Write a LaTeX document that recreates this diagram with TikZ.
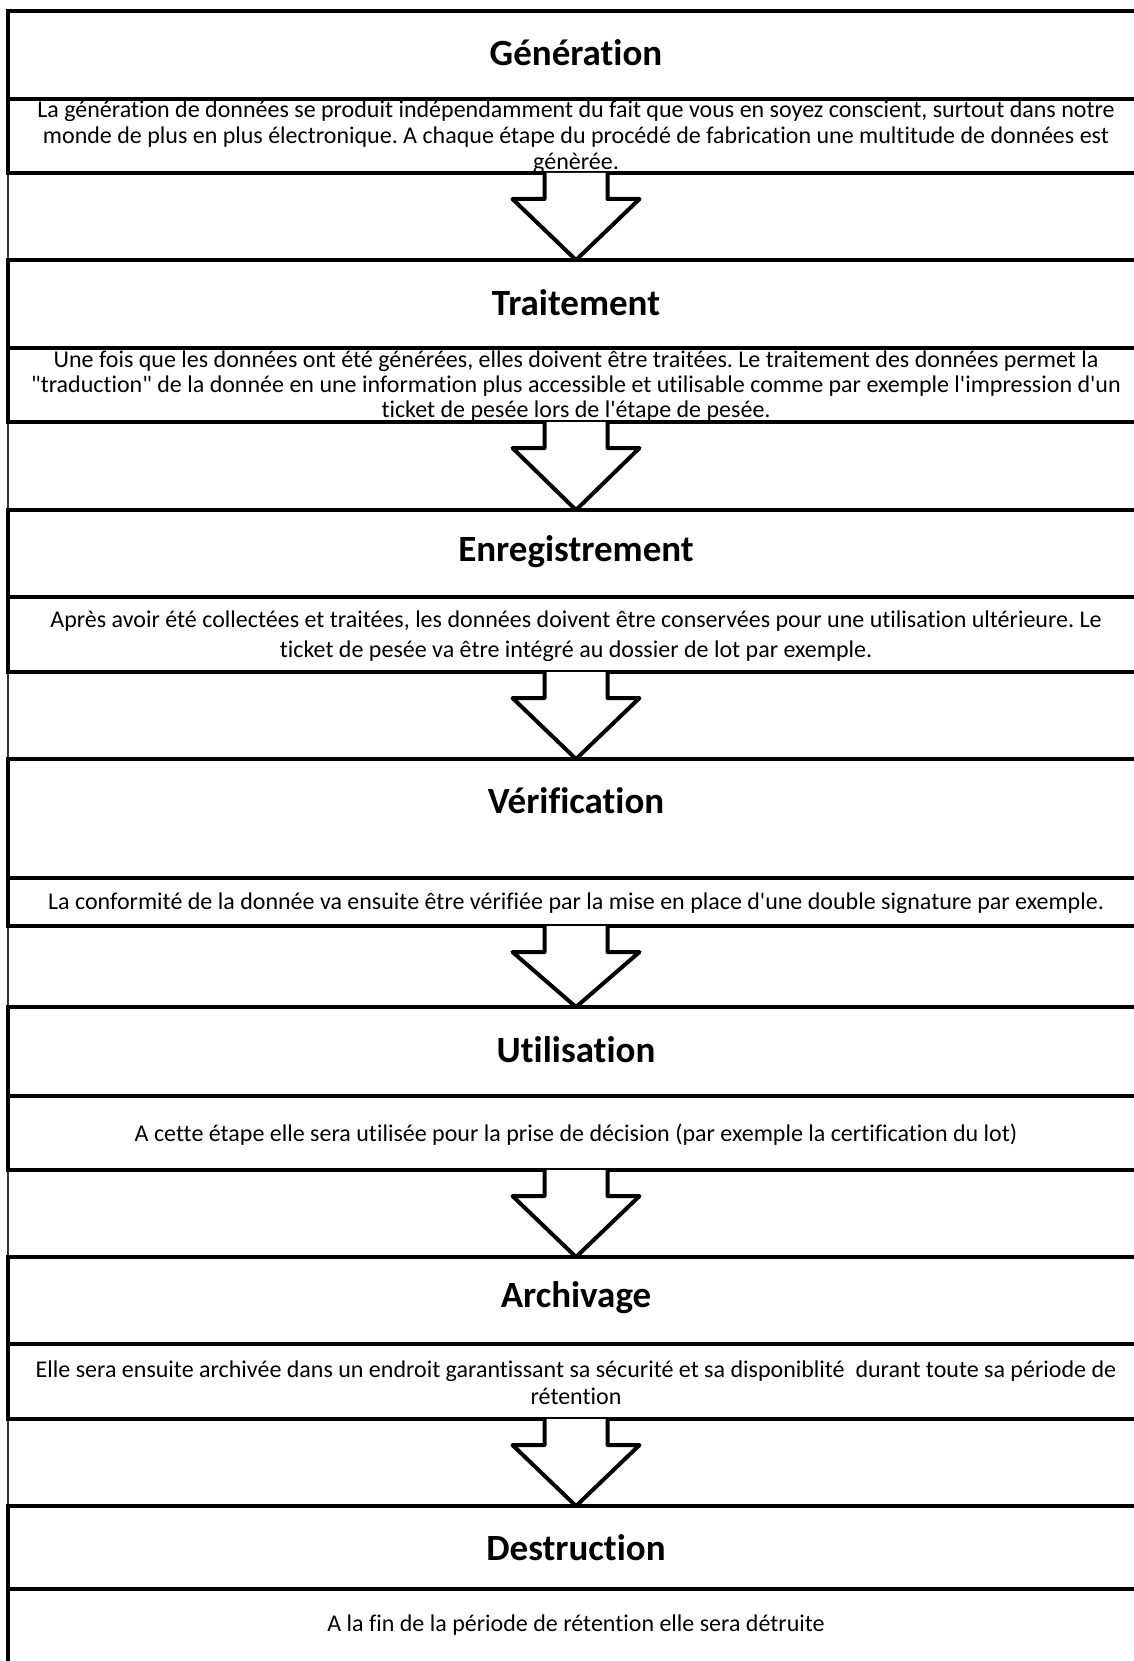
\documentclass[tikz,border=0pt]{standalone}
\usepackage{fontspec}
\newfontfamily\stagefont{Carlito}[Ligatures=NoCommon]
\usetikzlibrary{calc}
\frenchspacing

\tikzset{
  x=1pt, y=-1pt,
  stageframe/.style={draw=black, line width=4pt, fill=white,
    minimum width=1136pt, inner sep=0pt, outer sep=0pt},
  stagetitle/.style={font=\stagefont\bfseries\fontsize{37}{44}\selectfont,
    inner sep=0pt, anchor=center},
  stagetext/.style={font=\stagefont\fontsize{24}{26}\selectfont,
    align=center, inner sep=0pt, anchor=center},
  spine/.style={draw=black!80, line width=1.3pt},
  downarrow/.style={draw=black, line width=4pt, fill=white, line join=round},
}

\newcommand{\stagearrow}[2]{%
  \draw[downarrow] ($(#1.south)+(-31.5,0)$) -- ++(0,26) -- ++(-32,0)
    -- (#2.north) -- ($(#1.south)+(63.5,26)$) -- ++(-32,0)
    -- ($(#1.south)+(31.5,0)$);%
}

\begin{document}
\begin{tikzpicture}
\useasboundingbox[fill=white] (0,0) rectangle (1134,1661);

% thin vertical line running along the left side
\coordinate (spinetop) at (8,11);
\coordinate (spinebot) at (8,1661);
\draw[spine] (spinetop) -- (spinebot);

% ---- stage 1 ----
\node[stageframe, minimum height=88pt] (h1) at (576,55) {};
\node[stageframe, minimum height=74pt] (b1) at (576,136) {};
\node[stagetitle] (t1) at (576,53) {Génération};
\node[stagetext, font=\stagefont\fontsize{24}{26}\selectfont] (x1) at (576,137.5) {La génération de données se produit indépendamment du fait que vous en soyez conscient, surtout dans notre\\monde de plus en plus électronique. A chaque étape du procédé de fabrication une multitude de données est\\génèrée.};

% ---- stage 2 ----
\node[stageframe, minimum height=88pt] (h2) at (576,304) {};
\node[stageframe, minimum height=74pt] (b2) at (576,385) {};
\node[stagetitle] (t2) at (576,303) {Traitement};
\node[stagetext, font=\stagefont\fontsize{24}{25}\selectfont] (x2) at (576,386) {Une fois que les données ont été générées, elles doivent être traitées. Le traitement des données permet la\\"traduction" de la donnée en une information plus accessible et utilisable comme par exemple l'impression d'un\\ticket de pesée lors de l'étape de pesée.};

% ---- stage 3 ----
\node[stageframe, minimum height=87pt] (h3) at (576,553.5) {};
\node[stageframe, minimum height=75pt] (b3) at (576,634.5) {};
\node[stagetitle] (t3) at (576,552) {Enregistrement};
\node[stagetext, font=\stagefont\fontsize{24}{29.5}\selectfont] (x3) at (576,636) {Après avoir été collectées et traitées, les données doivent être conservées pour une utilisation ultérieure. Le\\ticket de pesée va être intégré au dossier de lot par exemple.};

% ---- stage 4 ----
\node[stageframe, minimum height=119pt] (h4) at (576,818.5) {};
\node[stageframe, minimum height=48pt] (b4) at (576,902) {};
\node[stagetitle] (t4) at (576,801) {Vérification};
\node[stagetext] (x4) at (576,903.5) {La conformité de la donnée va ensuite être vérifiée par la mise en place d'une double signature par exemple.};

% ---- stage 5 ----
\node[stageframe, minimum height=89pt] (h5) at (576,1051.5) {};
\node[stageframe, minimum height=74pt] (b5) at (576,1133) {};
\node[stagetitle] (t5) at (576,1050) {Utilisation};
\node[stagetext] (x5) at (576,1134.5) {A cette étape elle sera utilisée pour la prise de décision (par exemple la certification du lot)};

% ---- stage 6 ----
\node[stageframe, minimum height=87pt] (h6) at (576,1300.5) {};
\node[stageframe, minimum height=75pt] (b6) at (576,1381.5) {};
\node[stagetitle] (t6) at (576,1298) {Archivage};
\node[stagetext, font=\stagefont\fontsize{24}{26.5}\selectfont] (x6) at (576,1382.5) {Elle sera ensuite archivée dans un endroit garantissant sa sécurité et sa disponiblité\ \ durant toute sa période de\\rétention};

% ---- stage 7 ----
\node[stageframe, minimum height=83pt] (h7) at (576,1547.5) {};
\node[stageframe, minimum height=76pt] (b7) at (576,1627) {};
\node[stagetitle] (t7) at (576,1548) {Destruction};
\node[stagetext] (x7) at (576,1625) {A la fin de la période de rétention elle sera détruite};

% ---- block arrows between the stages ----
\stagearrow{b1}{h2}
\stagearrow{b2}{h3}
\stagearrow{b3}{h4}
\stagearrow{b4}{h5}
\stagearrow{b5}{h6}
\stagearrow{b6}{h7}

\end{tikzpicture}
\end{document}
